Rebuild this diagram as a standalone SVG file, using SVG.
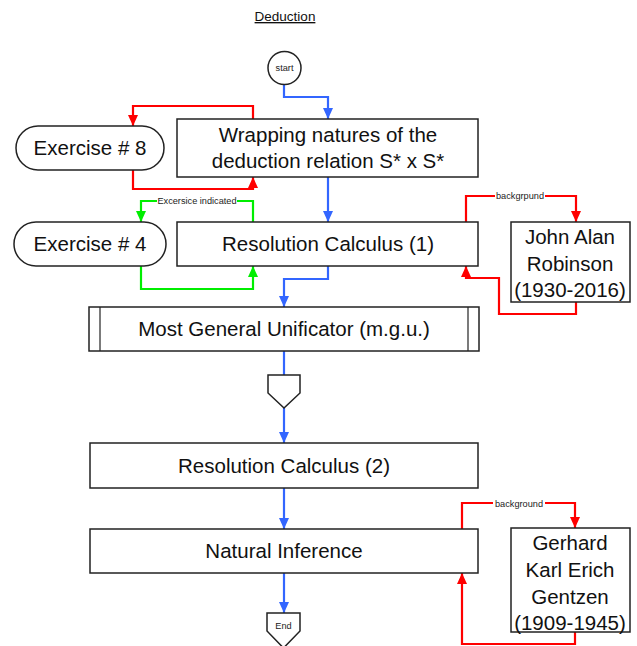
<svg xmlns="http://www.w3.org/2000/svg" width="637" height="646" viewBox="0 0 637 646">
  <style>
    .box { fill: #ffffff; stroke: #222222; stroke-width: 1.5; }
    .lbl { font-family: "Liberation Sans", Arial, sans-serif; font-size: 20.5px; fill: #111111; text-anchor: middle; }
    .small { font-family: "Liberation Sans", Arial, sans-serif; font-size: 9.2px; fill: #222222; text-anchor: middle; }
    .edge { fill: none; stroke-width: 2.2; stroke-linejoin: miter; }
    .blue { stroke: #3366ff; }
    .red { stroke: #ff0000; }
    .green { stroke: #00ee00; }
    .tag { fill: #ffffff; }
  </style>
  <defs>
    <marker id="arrBlue" markerUnits="userSpaceOnUse" markerWidth="12" markerHeight="12" viewBox="0 0 12 12" refX="11" refY="6" orient="auto">
      <path d="M0,1 L11,6 L0,11 z" fill="#3366ff"/>
    </marker>
    <marker id="arrRed" markerUnits="userSpaceOnUse" markerWidth="12" markerHeight="12" viewBox="0 0 12 12" refX="11" refY="6" orient="auto">
      <path d="M0,1 L11,6 L0,11 z" fill="#ff0000"/>
    </marker>
    <marker id="arrGreen" markerUnits="userSpaceOnUse" markerWidth="12" markerHeight="12" viewBox="0 0 12 12" refX="11" refY="6" orient="auto">
      <path d="M0,1 L11,6 L0,11 z" fill="#00ee00"/>
    </marker>
  </defs>

  <rect width="637" height="646" fill="#ffffff"/>

  <!-- title -->
  <text x="285" y="21" font-family="Liberation Sans, Arial, sans-serif" font-size="13.5" text-anchor="middle" text-decoration="underline" fill="#111111">Deduction</text>

  <!-- connectors -->
  <g id="connectors">
    <path class="edge blue" d="M284,85 V97 H328 V119" marker-end="url(#arrBlue)"/>
    <path class="edge blue" d="M328,177 V222" marker-end="url(#arrBlue)"/>
    <path class="edge blue" d="M328,266 V279 H284 V307" marker-end="url(#arrBlue)"/>
    <path class="edge blue" d="M284,351 V375"/>
    <path class="edge blue" d="M284,408 V443" marker-end="url(#arrBlue)"/>
    <path class="edge blue" d="M284,488 V529" marker-end="url(#arrBlue)"/>
    <path class="edge blue" d="M284,573 V613" marker-end="url(#arrBlue)"/>

    <path class="edge red" d="M253,119 V106 H133 V126" marker-end="url(#arrRed)"/>
    <path class="edge red" d="M133,170 V189 H253 V177" marker-end="url(#arrRed)"/>

    <path class="edge green" d="M253,222 V201 H141 V222" marker-end="url(#arrGreen)"/>
    <path class="edge green" d="M141,266 V289 H253 V266" marker-end="url(#arrGreen)"/>

    <path class="edge red" d="M466,222 V196 H576 V222" marker-end="url(#arrRed)"/>
    <path class="edge red" d="M576,302 V314 H499 V278 H466 V266" marker-end="url(#arrRed)"/>

    <path class="edge red" d="M462,529 V503 H575 V528" marker-end="url(#arrRed)"/>
    <path class="edge red" d="M575,632 V644 H462 V573" marker-end="url(#arrRed)"/>

    <!-- edge labels -->
    <rect class="tag" x="157" y="196" width="80" height="10"/>
    <text class="small" x="197" y="204">Excersice indicated</text>
    <rect class="tag" x="495" y="191" width="50" height="10"/>
    <text class="small" x="520" y="199">backgrpund</text>
    <rect class="tag" x="493" y="498" width="52" height="10"/>
    <text class="small" x="519" y="507">background</text>
  </g>

  <g id="start">
    <circle class="box" cx="284.5" cy="68" r="16.5"/>
    <text class="small" x="284.5" y="71" font-size="8.5">start</text>
  </g>

  <g id="wrapping">
    <rect class="box" x="177" y="119" width="301" height="58"/>
    <text class="lbl" x="328" y="142">Wrapping natures of the</text>
    <text class="lbl" x="328" y="168">deduction relation S* x S*</text>
  </g>

  <g id="exercise8">
    <rect class="box" x="16" y="126" width="148" height="44" rx="22" ry="22"/>
    <text class="lbl" x="90" y="155">Exercise # 8</text>
  </g>

  <g id="exercise4">
    <rect class="box" x="14" y="222" width="152" height="44" rx="22" ry="22"/>
    <text class="lbl" x="90" y="251">Exercise # 4</text>
  </g>

  <g id="resolution1">
    <rect class="box" x="177" y="222" width="301" height="44"/>
    <text class="lbl" x="328" y="251">Resolution Calculus (1)</text>
  </g>

  <g id="robinson">
    <rect class="box" x="511" y="222" width="119" height="80"/>
    <text class="lbl" x="570" y="244">John Alan</text>
    <text class="lbl" x="570" y="271">Robinson</text>
    <text class="lbl" x="570" y="297">(1930-2016)</text>
  </g>

  <g id="mgu">
    <rect class="box" x="89" y="307" width="390" height="44"/>
    <line x1="100" y1="307" x2="100" y2="351" stroke="#222222" stroke-width="1.2"/>
    <line x1="468" y1="307" x2="468" y2="351" stroke="#222222" stroke-width="1.2"/>
    <text class="lbl" x="284" y="336">Most General Unificator (m.g.u.)</text>
  </g>

  <g id="offpage">
    <path class="box" d="M268,375 H300 V393 L284,408 L268,393 Z"/>
  </g>

  <g id="resolution2">
    <rect class="box" x="90" y="443" width="388" height="45"/>
    <text class="lbl" x="284" y="473">Resolution Calculus (2)</text>
  </g>

  <g id="natural">
    <rect class="box" x="90" y="529" width="388" height="44"/>
    <text class="lbl" x="284" y="558">Natural Inference</text>
  </g>

  <g id="gentzen">
    <rect class="box" x="511" y="528" width="119" height="104"/>
    <text class="lbl" x="570" y="550">Gerhard</text>
    <text class="lbl" x="570" y="577">Karl Erich</text>
    <text class="lbl" x="570" y="604">Gentzen</text>
    <text class="lbl" x="570" y="630">(1909-1945)</text>
  </g>

  <g id="end">
    <path class="box" d="M267,613 H300 V631 L283.5,648 L267,631 Z"/>
    <text class="small" x="283.5" y="629" font-size="9.5">End</text>
  </g>
</svg>
